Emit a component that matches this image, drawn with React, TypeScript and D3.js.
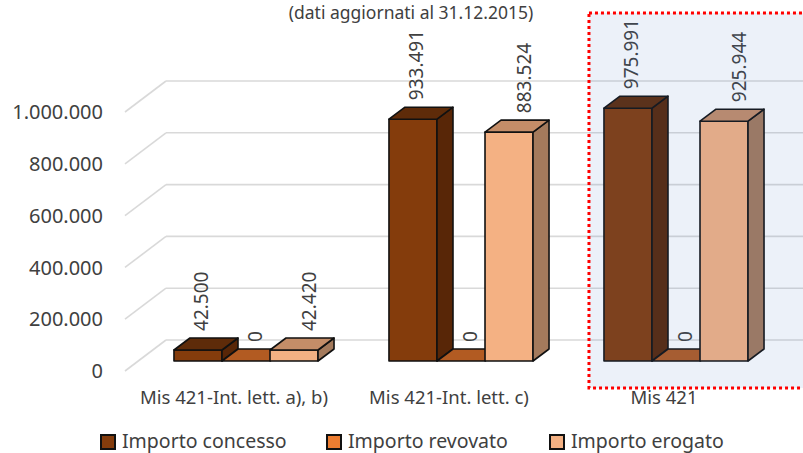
import React from "react";
import * as d3 from "d3";

const title = "(dati aggiornati al 31.12.2015)";
const categories = ["Mis 421-Int. lett. a), b)", "Mis 421-Int. lett. c)", "Mis 421"];
const seriesNames = ["Importo concesso", "Importo revovato", "Importo erogato"];
const concesso = [42500, 933491, 975991];
const revovato = [0, 0, 0];
const erogato = [42420, 883524, 925944];
const yTicks = [0, 200000, 400000, 600000, 800000, 1000000];
const highlightedCategory = "Mis 421";

const seriesValues = [concesso, revovato, erogato];
const faceColors = [
  { front: "#843C0C", top: "#5E2B09", side: "#582607", legend: "#843C0C" },
  { front: "#C55A11", top: "#B25B22", side: "#8F4510", legend: "#ED7D31" },
  { front: "#F4B183", top: "#C48D68", side: "#A47A5C", legend: "#F4B183" },
];

const W = 803;
const H = 453;
const FONT = "'Noto Sans', 'Open Sans', sans-serif";
const TXT = "#404040";

const itLocale = d3.formatLocale({ decimal: ",", thousands: ".", grouping: [3], currency: ["€", ""] });
const fmt = itLocale.format(",d");

// wall / floor projection
const wallDX = 41;
const wallDY = -31;
const barDX = 16;
const barDY = -12;

export default function App() {
  const yFront = d3.scaleLinear().domain([0, 1000000]).range([371, 112]);
  const yBar = (v: number) => yFront(v) - 10;
  const axisX = 125;

  const x0 = d3
    .scaleBand<string>()
    .domain(categories)
    .range([138.5, 783.5])
    .paddingInner(0.33)
    .paddingOuter(0.165);
  const x1 = d3.scaleBand<string>().domain(seriesNames).range([0, x0.bandwidth()]).padding(0);

  const hx = (x0(highlightedCategory) as number) - 15;

  return (
    <svg
      width={W}
      height={H}
      style={{ position: "absolute", left: 0, top: 0, background: "#fff" }}
      fontFamily={FONT}
    >
      <rect x={0} y={0} width={W} height={H} fill="#fff" />
      {/* title */}
      <text x={411} y={19} textAnchor="middle" fontSize={17.5} fill={TXT}>
        {title}
      </text>

      {/* gridlines: side wall diagonals + back wall */}
      {yTicks.map((t) => {
        const yf = yFront(t);
        return (
          <g key={t}>
            <line x1={axisX} y1={yf} x2={axisX + wallDX} y2={yf + wallDY} stroke="#d9d9d9" strokeWidth={1.6} />
            <line x1={axisX + wallDX} y1={yf + wallDY} x2={W} y2={yf + wallDY} stroke="#d9d9d9" strokeWidth={1.6} />
            <text x={103} y={yf} dy="0.36em" textAnchor="end" fontSize={20} fill={TXT}>
              {fmt(t)}
            </text>
          </g>
        );
      })}

      {/* bars */}
      {categories.map((cat, ci) => (
        <g key={cat}>
          {seriesNames.map((s, si) => {
            const v = seriesValues[si][ci];
            const xa = (x0(cat) as number) + (x1(s) as number);
            const xb = xa + x1.bandwidth();
            const yt = yBar(v);
            const yb = yBar(0);
            const c = faceColors[si];
            const top = `${xa},${yt} ${xa + barDX},${yt + barDY} ${xb + barDX},${yt + barDY} ${xb},${yt}`;
            const side = `${xb},${yt} ${xb + barDX},${yt + barDY} ${xb + barDX},${yb + barDY} ${xb},${yb}`;
            return (
              <g key={s} stroke="#111" strokeWidth={1.6} strokeLinejoin="round">
                {v > 0 && <rect x={xa} y={yt} width={xb - xa} height={yb - yt} fill={c.front} />}
                {v > 0 && <polygon points={side} fill={c.side} />}
                <polygon points={top} fill={c.top} />
              </g>
            );
          })}
        </g>
      ))}

      {/* data labels */}
      {categories.map((cat, ci) =>
        seriesNames.map((s, si) => {
          const v = seriesValues[si][ci];
          const xc = (x0(cat) as number) + (x1(s) as number) + x1.bandwidth() / 2 + 3 + si * 6;
          const ys = yBar(v) - 19;
          return (
            <text
              key={cat + s}
              transform={`translate(${xc},${ys}) rotate(-90)`}
              dominantBaseline="central"
              textAnchor="start"
              fontSize={19}
              fill={TXT}
            >
              {fmt(v)}
            </text>
          );
        })
      )}

      {/* category labels */}
      {categories.map((cat) => (
        <text
          key={cat}
          x={(x0(cat) as number) + x0.bandwidth() / 2 - 12}
          y={404}
          textAnchor="middle"
          fontSize={18.5}
          fill={TXT}
        >
          {cat}
        </text>
      ))}

      {/* highlight box */}
      <rect
        x={hx}
        y={13}
        width={W - hx + 10}
        height={375}
        fill="rgba(68,114,196,0.1)"
        stroke="#FF0000"
        strokeWidth={3}
        strokeDasharray="3,3"
      />

      {/* legend */}
      {seriesNames.map((s, i) => {
        const lx = [101, 327, 550][i];
        return (
          <g key={s}>
            <rect x={lx} y={435} width={14} height={14} fill={faceColors[i].legend} stroke="#111" strokeWidth={2} />
            <text x={lx + 21} y={448} fontSize={19.5} fill={TXT}>
              {s}
            </text>
          </g>
        );
      })}
    </svg>
  );
}
